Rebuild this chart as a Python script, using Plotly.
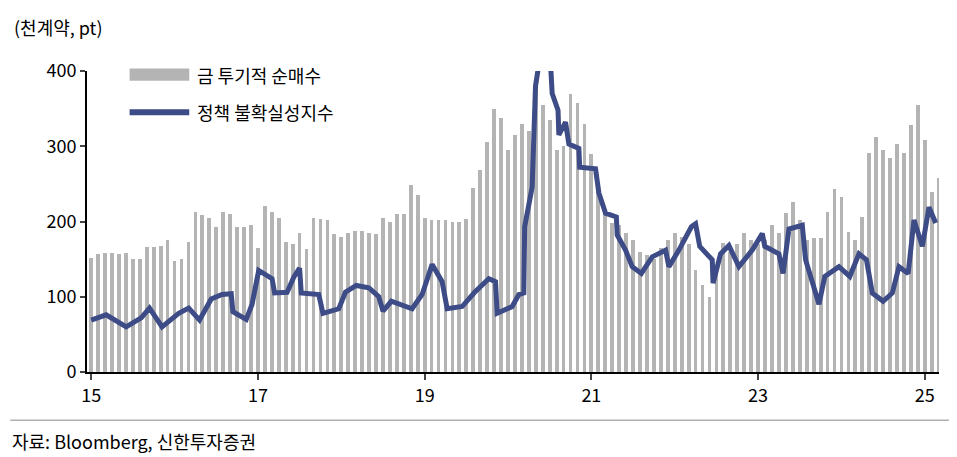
import plotly.graph_objects as go

# 금 투기적 순매수 (천계약), monthly from 2015.01
bar_values = [
    152, 157, 158, 158, 157, 158, 150, 150, 166, 166, 168, 175,
    148, 150, 173, 213, 208, 205, 193, 212, 210, 193, 193, 195,
    165, 220, 212, 205, 173, 170, 185, 163, 205, 203, 202, 183,
    180, 185, 188, 188, 185, 183, 205, 200, 210, 210, 248, 235,
    205, 202, 202, 202, 200, 200, 203, 245, 268, 305, 350, 337,
    295, 315, 330, 320, 385, 355, 335, 295, 300, 370, 358, 330,
    290, 250, 215, 198, 195, 185, 175, 160, 155, 150, 165, 175,
    185, 180, 170, 135, 115, 100, 140, 172, 160, 170, 185, 175,
    170, 175, 195, 185, 211, 226, 202, 175, 178, 178, 212, 243,
    232, 186, 175, 206, 291, 312, 295, 285, 303, 291, 328, 355,
    308, 239, 258,
]
bar_x = [15 + i / 12 for i in range(len(bar_values))]

# 정책 불확실성지수 (pt)
line_x = [15.0, 15.18, 15.42, 15.6, 15.7, 15.85, 16.05, 16.17, 16.3, 16.44, 16.57, 16.68, 16.7,
          16.86, 16.93, 17.01, 17.17, 17.2, 17.35, 17.43, 17.5, 17.52, 17.73, 17.78, 17.97,
          18.05, 18.18, 18.33, 18.45, 18.5, 18.6, 18.85, 18.97, 19.09, 19.21, 19.27, 19.45,
          19.6, 19.77, 19.85, 19.87, 20.01, 20.05, 20.13, 20.19, 20.2, 20.29, 20.33, 20.4,
          20.5, 20.53, 20.6, 20.61, 20.69, 20.73, 20.85, 20.86, 21.05, 21.09, 21.17, 21.3,
          21.31, 21.41, 21.49, 21.6, 21.73, 21.89, 21.93, 22.05, 22.2, 22.25, 22.3, 22.45,
          22.46, 22.55, 22.65, 22.77, 22.93, 23.05, 23.08, 23.25, 23.3, 23.37, 23.53, 23.57,
          23.69, 23.73, 23.8, 23.97, 24.1, 24.21, 24.3, 24.37, 24.5, 24.61, 24.69, 24.8,
          24.87, 24.97, 25.05, 25.13]
line_values = [69, 76, 60, 72, 85, 60, 78, 85, 69, 97, 103, 104, 80,
               70, 90, 135, 124, 105, 106, 126, 138, 105, 103, 78, 84,
               106, 115, 112, 100, 81, 94, 84, 103, 143, 120, 84, 87,
               106, 124, 120, 78, 86, 87, 103, 105, 193, 246, 380, 430,
               430, 370, 348, 315, 332, 303, 297, 272, 270, 238, 211, 206,
               182, 162, 140, 131, 153, 162, 140, 162, 193, 197, 167, 149,
               118, 157, 168, 140, 162, 184, 167, 157, 131, 190, 195, 149,
               105, 90, 127, 140, 127, 157, 149, 105, 94, 105, 140, 131,
               202, 167, 219, 198]

y_ticks = [0, 100, 200, 300, 400]
x_ticks = [15, 17, 19, 21, 23, 25]

FONT = "Noto Sans CJK KR"

fig = go.Figure()
fig.add_trace(go.Bar(x=bar_x, y=bar_values, width=0.045, marker_color="#b4b4b4",
                     marker_line_width=0, showlegend=False))
fig.add_trace(go.Scatter(x=line_x, y=line_values, mode="lines",
                         line=dict(color="#3d4b86", width=5), showlegend=False))

fig.update_layout(
    width=957, height=457,
    margin=dict(l=79, r=26, t=63, b=93),
    paper_bgcolor="white", plot_bgcolor="white",
    font=dict(family=FONT, size=18, color="black"),
    bargap=0,
    xaxis=dict(range=[14.95, 25.17], tickvals=x_ticks, ticktext=[str(v) for v in x_ticks],
               showline=True, linecolor="black", linewidth=2, ticks="outside",
               ticklen=6, tickwidth=2, showgrid=False, zeroline=False),
    yaxis=dict(range=[0, 400], tickvals=y_ticks, showline=True, linecolor="black",
               linewidth=2, ticks="outside", ticklen=5, tickwidth=2,
               showgrid=False, zeroline=False),
    shapes=[
        dict(type="rect", xref="paper", yref="paper", x0=0.05, x1=0.12, y0=0.968, y1=1.008,
             fillcolor="#b4b4b4", line_width=0),
        dict(type="line", xref="paper", yref="paper", x0=0.05, x1=0.12, y0=0.863, y1=0.863,
             line=dict(color="#3d4b86", width=6)),
        dict(type="line", xref="paper", yref="paper", x0=-0.09, x1=1.03, y0=-0.16, y1=-0.16,
             line=dict(color="#888888", width=1)),
    ],
    annotations=[
        dict(text="금 투기적 순매수", xref="paper", yref="paper", x=0.127, y=0.988,
             xanchor="left", yanchor="middle", showarrow=False, font=dict(size=18)),
        dict(text="정책 불확실성지수", xref="paper", yref="paper", x=0.127, y=0.863,
             xanchor="left", yanchor="middle", showarrow=False, font=dict(size=18)),
        dict(text="(천계약, pt)", xref="paper", yref="paper", x=-0.088, y=1.146,
             xanchor="left", yanchor="middle", showarrow=False, font=dict(size=18)),
        dict(text="자료: Bloomberg, 신한투자증권", xref="paper", yref="paper", x=-0.09, y=-0.23,
             xanchor="left", yanchor="middle", showarrow=False, font=dict(size=18)),
    ],
)

fig.write_html("out.html")
